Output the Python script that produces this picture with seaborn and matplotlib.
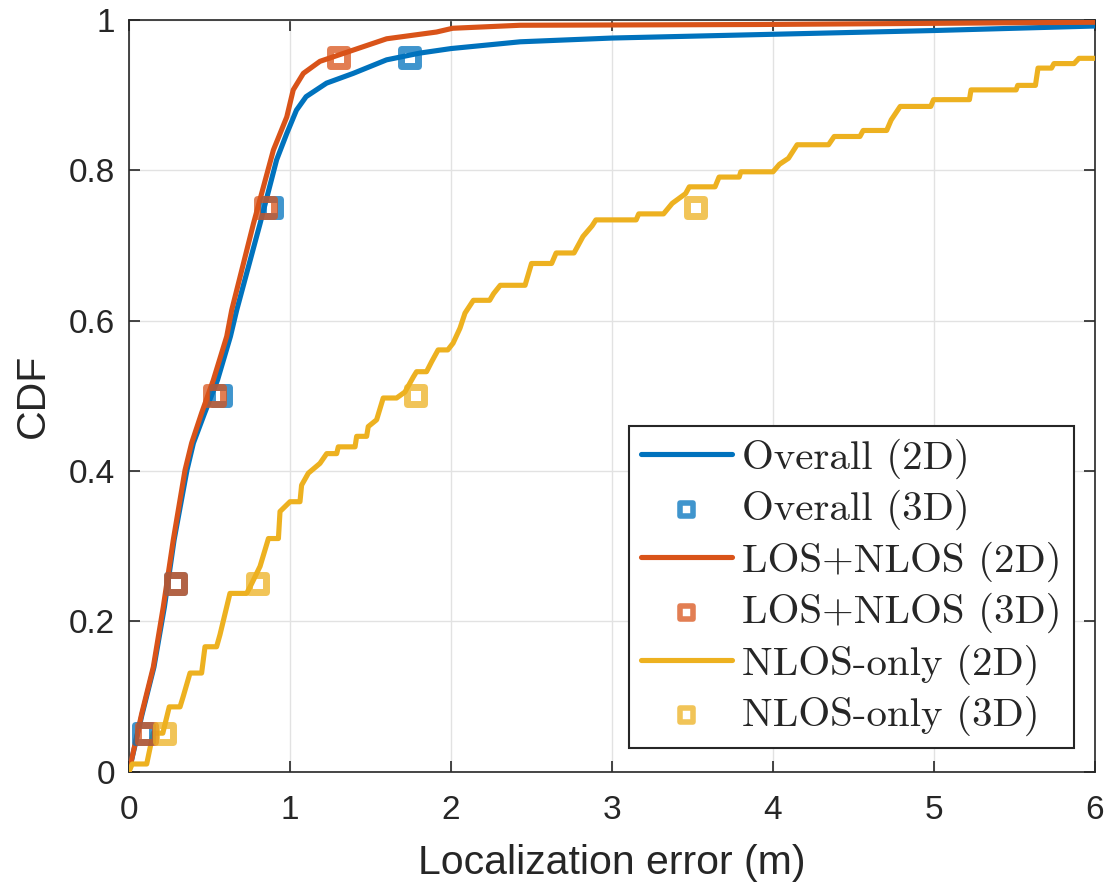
import numpy as np
import pandas as pd
import matplotlib
matplotlib.use("Agg")
import matplotlib.pyplot as plt
import seaborn as sns

# ---------------- data ----------------
overall_2d_x = [0, 0.08, 0.155, 0.22, 0.28, 0.36, 0.40, 0.47, 0.55, 0.63, 0.669, 0.814, 0.917,
                0.98, 1.04, 1.10, 1.227, 1.393, 1.60, 1.807, 2.0, 2.43, 3.0, 4.0, 5.0, 6.0]
overall_2d_y = [0, 0.075, 0.139, 0.219, 0.308, 0.401, 0.437, 0.477, 0.521, 0.579, 0.614, 0.729, 0.814,
                0.849, 0.880, 0.898, 0.916, 0.929, 0.947, 0.956, 0.962, 0.971, 0.976, 0.981, 0.986, 0.992]

losnlos_2d_x = [0, 0.079, 0.151, 0.213, 0.275, 0.348, 0.389, 0.451, 0.524, 0.607, 0.638, 0.773, 0.897,
                0.98, 1.02, 1.083, 1.186, 1.393, 1.60, 1.91, 2.01, 2.43, 3.9, 6.0]
losnlos_2d_y = [0, 0.077, 0.139, 0.219, 0.308, 0.401, 0.437, 0.477, 0.521, 0.579, 0.614, 0.729, 0.827,
                0.871, 0.907, 0.929, 0.945, 0.960, 0.975, 0.984, 0.989, 0.993, 0.994, 0.997]

nlos_2d_x = [0, 0.02, 0.11, 0.15, 0.21, 0.25, 0.317, 0.337, 0.379, 0.451, 0.472, 0.544, 0.565, 0.627,
             0.731, 0.762, 0.814, 0.845, 0.866, 0.928, 0.938, 1.0, 1.062, 1.072, 1.114, 1.186, 1.228,
             1.29, 1.30, 1.404, 1.414, 1.476, 1.486, 1.538, 1.579, 1.662, 1.714, 1.766, 1.786, 1.848,
             1.879, 1.92, 1.98, 2.013, 2.056, 2.087, 2.139, 2.24, 2.265, 2.306, 2.46, 2.50, 2.625,
             2.653, 2.764, 2.82, 2.876, 2.9, 3.15, 3.166, 3.32, 3.374, 3.457, 3.48, 3.64, 3.665, 3.79,
             3.80, 4.0, 4.04, 4.096, 4.15, 4.345, 4.38, 4.54, 4.56, 4.706, 4.734, 4.79, 4.98, 4.997,
             5.22, 5.23, 5.51, 5.52, 5.63, 5.646, 5.73, 5.745, 5.87, 5.90, 6.0]
nlos_2d_y = [0, 0.01, 0.01, 0.051, 0.051, 0.086, 0.086, 0.10, 0.131, 0.131, 0.166, 0.166, 0.182, 0.237,
             0.237, 0.250, 0.273, 0.295, 0.310, 0.310, 0.346, 0.359, 0.359, 0.381, 0.397, 0.41, 0.423,
             0.423, 0.432, 0.432, 0.446, 0.446, 0.459, 0.468, 0.497, 0.497, 0.505, 0.525, 0.532, 0.532,
             0.545, 0.561, 0.561, 0.570, 0.590, 0.610, 0.627, 0.627, 0.636, 0.647, 0.647, 0.676, 0.676,
             0.690, 0.690, 0.712, 0.726, 0.734, 0.734, 0.742, 0.742, 0.756, 0.769, 0.778, 0.778, 0.791, 0.791,
             0.798, 0.798, 0.808, 0.816, 0.834, 0.834, 0.845, 0.845, 0.853, 0.853, 0.867, 0.885, 0.885, 0.894,
             0.894, 0.907, 0.907, 0.913, 0.913, 0.936, 0.936, 0.942, 0.942, 0.949, 0.949]

overall_3d_x = [0.09, 0.29, 0.57, 0.885, 1.745]
overall_3d_y = [0.05, 0.25, 0.50, 0.75, 0.95]
losnlos_3d_x = [0.11, 0.29, 0.53, 0.85, 1.30]
losnlos_3d_y = [0.05, 0.25, 0.50, 0.75, 0.95]
nlos_3d_x = [0.22, 0.80, 1.78, 3.52]
nlos_3d_y = [0.05, 0.25, 0.50, 0.75]

labels = ["Overall (2D)", "Overall (3D)", "LOS+NLOS (2D)", "LOS+NLOS (3D)",
          "NLOS-only (2D)", "NLOS-only (3D)"]
colors = ["#0072BD", "#D95319", "#EDB120"]

x_ticks = [0, 1, 2, 3, 4, 5, 6]
y_ticks = [0, 0.2, 0.4, 0.6, 0.8, 1.0]
y_tick_labels = ["0", "0.2", "0.4", "0.6", "0.8", "1"]

# ---------------- plotting ----------------
sns.set_theme(style="ticks")
plt.rcParams["font.family"] = ["Liberation Sans", "DejaVu Sans"]

fig = plt.figure(figsize=(11.11, 8.88), dpi=100)
ax = fig.add_axes([129 / 1111, (888 - 771.5) / 888, (1095 - 129) / 1111, (771.5 - 20) / 888])

lines = [(overall_2d_x, overall_2d_y), (losnlos_2d_x, losnlos_2d_y), (nlos_2d_x, nlos_2d_y)]
marks = [(overall_3d_x, overall_3d_y), (losnlos_3d_x, losnlos_3d_y), (nlos_3d_x, nlos_3d_y)]

for i in range(3):
    lx, ly = lines[i]
    mx, my = marks[i]
    df_l = pd.DataFrame({"x": lx, "y": ly})
    df_m = pd.DataFrame({"x": mx, "y": my})
    sns.lineplot(data=df_l, x="x", y="y", ax=ax, color=colors[i], linewidth=3.7,
                 estimator=None, sort=False, label=labels[2 * i], zorder=3)
    sns.scatterplot(data=df_m, x="x", y="y", ax=ax, marker="s", s=150,
                    facecolors="none", edgecolor=colors[i], linewidth=5, alpha=0.75,
                    label=labels[2 * i + 1], zorder=4)

ax.set_xlim(0, 6)
ax.set_ylim(0, 1)
ax.set_xticks(x_ticks)
ax.set_xticklabels([str(t) for t in x_ticks])
ax.set_yticks(y_ticks)
ax.set_yticklabels(y_tick_labels)
ax.grid(True, color="#e2e2e2", linewidth=1.0)
ax.set_axisbelow(True)
ax.tick_params(direction="in", length=8, width=1.2, colors="#262626", labelsize=24,
               top=True, right=True)
ax.tick_params(axis="x", pad=17)
ax.tick_params(axis="y", pad=10)
for s in ax.spines.values():
    s.set_visible(True)
    s.set_color("#262626")
    s.set_linewidth(1.2)

ax.set_xlabel("Localization error (m)", fontsize=29.5, color="#262626", labelpad=13)
ax.set_ylabel("CDF", fontsize=29.5, color="#262626", labelpad=12)

leg = ax.legend(loc="lower right", bbox_to_anchor=(0.978, 0.031), borderaxespad=0,
                prop={"family": "cmr10", "size": 29.5}, frameon=True, fancybox=False,
                framealpha=1, edgecolor="#262626", handlelength=2.2, handletextpad=0.25,
                labelspacing=0.27, borderpad=0.3)
leg.get_frame().set_linewidth(1.5)
for h in leg.legend_handles:
    if hasattr(h, "set_sizes"):
        h.set_sizes([90])
        h.set_linewidth(4)

fig.savefig("out.png", dpi=100)
